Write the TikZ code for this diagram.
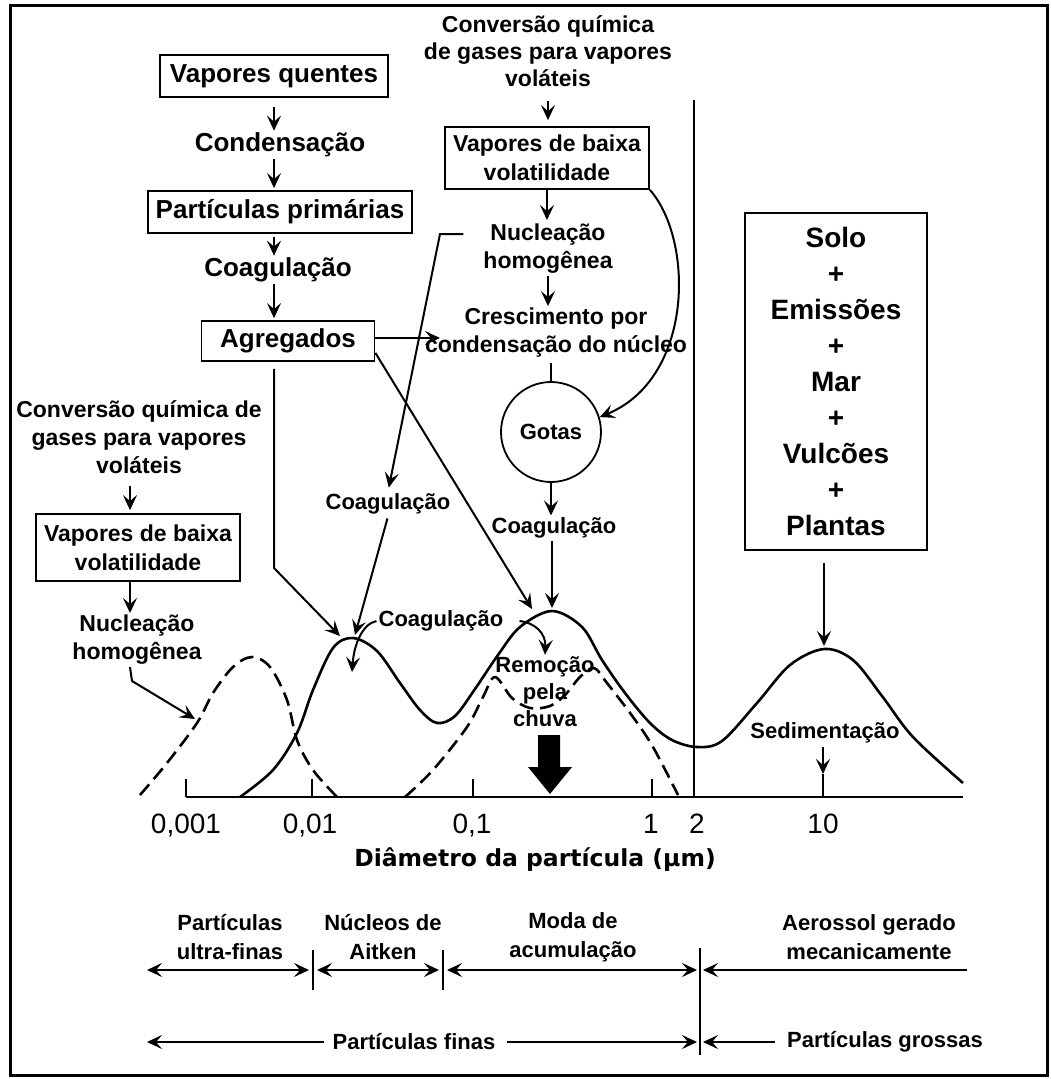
\documentclass[tikz,border=0pt]{standalone}
\usepackage{fontspec}
\setmainfont{Liberation Sans}
\newfontfamily\titlefont{DejaVu Sans}
\usetikzlibrary{arrows.meta}
\newcommand{\fsz}[2]{\fontsize{#1}{#2}\selectfont}
\begin{document}
\begin{tikzpicture}[x=1pt,y=-1pt,
  lbl/.style={font=\bfseries\fsz{23}{28}, inner sep=2pt, align=center},
  big/.style={lbl, font=\bfseries\fsz{26}{30}},
  sml/.style={lbl, font=\bfseries\fsz{22}{28}},
  boxed/.style={draw, line width=1.8pt},
  arr/.style={line width=2pt, -{Stealth[length=15pt,width=14pt,inset=6pt]}},
  darr/.style={line width=2.2pt, {Stealth[length=15pt,width=14pt,inset=6pt]}-{Stealth[length=15pt,width=14pt,inset=6pt]}},
  curve/.style={line width=2.6pt, line join=round},
  dcurve/.style={curve, dash pattern=on 14pt off 7pt},
  tickline/.style={line width=1.6pt},
  ticklbl/.style={font=\fsz{28}{30}, inner sep=1pt, anchor=base}
]
\fill[white] (0,0) rectangle (1051,1079);
\useasboundingbox (0,0) rectangle (1051,1079);
\draw[line width=3pt] (10,5) rectangle (1047,1075);

% ---------- left flow ----------
\coordinate (ux) at (274,0);
\node[big, boxed, minimum width=228pt, minimum height=42pt] (vq) at (274,76) {Vapores quentes};
\node[big] (cond) at (280,145) {Condensação};
\node[big, boxed, minimum width=264pt, minimum height=42pt] (pp) at (280,212) {Partículas primárias};
\node[big] (coag1) at (278,270) {Coagulação};
\node[big, boxed, minimum width=173pt, minimum height=40pt] (ag) at (288,341) {Agregados};

\draw[arr, shorten <=9pt] (vq.south -| ux) -- (cond.north -| ux);
\draw[arr, shorten >=2pt] (cond.south -| ux) -- (pp.north -| ux);
\draw[arr, shorten <=3pt] (pp.south -| ux) -- (coag1.north -| ux);
\draw[arr, shorten >=2pt] (coag1.south -| ux) -- (ag.north -| ux);

% ---------- top middle flow ----------
\node[lbl, font=\bfseries\fsz{23}{27}] (conv1) at (548,51) {Conversão química\\de gases para vapores\\voláteis};
\node[lbl, boxed, minimum width=204pt, minimum height=62pt, font=\bfseries\fsz{23}{29}] (vb1) at (547,158) {Vapores de baixa\\volatilidade};
\node[lbl] (nuc1) at (548,249) {Nucleação\\homogênea};
\node[lbl] (cresc) at (556,333) {Crescimento por\\condensação do núcleo};
\node[sml, draw, circle, line width=1.8pt, minimum size=100pt] (gotas) at (551,432) {Gotas};
\node[sml] (coagg) at (554,528) {Coagulação};

\draw[arr, shorten <=12pt, shorten >=6pt] (conv1.south) -- (conv1.south |- vb1.north);
\draw[arr, shorten >=2pt] (vb1.south) -- (vb1.south |- nuc1.north);
\draw[arr] (nuc1.south) -- (nuc1.south |- cresc.north);
\draw[line width=1.6pt, shorten <=3pt] (cresc.south -| gotas.north) -- (gotas.north);
\draw[arr] (gotas.south) -- (gotas.south |- coagg.north);
\coordinate (p2) at (552,608);
\draw[arr] (coagg.south -| p2) -- (p2);
\draw[arr] (vb1.south east) .. controls (694,240) and (694,378) .. (gotas.17);

% ---------- middle connectors ----------
\node[sml] (coagm) at (388,504) {Coagulação};
\node[sml] (coags) at (441,621) {Coagulação};
\node[lbl, font=\bfseries\fsz{22}{27}] (remo) at (545,692) {Remoção\\pela\\chuva};

\coordinate (agtip) at (440,338);
\draw[arr] (ag.east |- agtip) -- (agtip);
\coordinate (p2l) at (532,609);
\draw[arr] ([yshift=9pt]ag.south east) -- (p2l);
\coordinate (nk2) at (440,234);
\draw[arr, shorten >=4pt] ([xshift=-18pt,yshift=15pt]nuc1.west) -- (nk2) -- (coagm.north);
\coordinate (p1b) at (355,635);
\draw[arr, shorten <=2pt] (coagm.south) -- (p1b);
\coordinate (agk) at (274,568);
\coordinate (p1a) at (340,636);
\draw[arr, shorten <=7pt] (ag.south -| agk) -- (agk) -- (p1a);
\coordinate (p1c) at (352,672);
\draw[arr] (coags.west) .. controls (362,624) and (354,645) .. (p1c);
\draw[arr] ([xshift=14pt]coags.east) .. controls (536,623) and (546,634) .. (remo.north);

% big black arrow
\fill (538,735) -- (560,735) -- (560,767) -- (572,767) -- (550,794) -- (528,767) -- (538,767) -- cycle;

% ---------- left side ----------
\coordinate (lx) at (130,0);
\node[lbl] (conv2) at (139,437) {Conversão química de\\gases para vapores\\voláteis};
\node[lbl, boxed, minimum width=204pt, minimum height=67pt, font=\bfseries\fsz{23}{29}] (vb2) at (138,547.5) {Vapores de baixa\\volatilidade};
\node[lbl] (nuc2) at (137,640) {Nucleação\\homogênea};
\draw[arr, shorten <=10pt, shorten >=3pt] (conv2.south -| lx) -- (vb2.north -| lx);
\draw[arr] (vb2.south -| lx) -- (nuc2.north -| lx);
\coordinate (nuk) at (132,681);
\coordinate (dtip) at (195,719);
\draw[arr] (nuc2.south -| lx) -- (nuk) -- (dtip);

% ---------- right side ----------
\node[boxed, inner sep=2pt, align=center, font=\bfseries\fsz{28}{36}, minimum width=182pt, minimum height=337pt] (solo) at (836,381.5) {Solo\\+\\Emissões\\+\\Mar\\+\\Vulcões\\+\\Plantas};
\coordinate (p3) at (824,646);
\draw[arr, shorten <=12pt] (solo.south -| p3) -- (p3);
\node[sml] (sed) at (825,733) {Sedimentação};
\coordinate (sedtip) at (823,774);
\coordinate (t10) at (823,797);
\draw[arr, shorten <=2pt] (sed.south -| sedtip) -- (sedtip);
\draw[tickline] (sedtip) -- (t10);

% vertical 2 um line
\coordinate (v2top) at (694,100);
\coordinate (v2bot) at (694,797);
\draw[line width=1.8pt] (v2top) -- (v2bot);

% ---------- curves ----------
\draw[curve] plot[smooth, tension=0.55] coordinates {(240,797) (273,770) (297,733) (313,690) (333,648) (353,638) (377,651) (400,683) (420,710) (437,723) (455,716) (475,689) (498,655) (520,627) (552,611) (582,627) (602,660) (625,693) (650,723) (672,740) (697,747) (722,741) (757,703) (790,665) (824,649) (853,660) (882,696) (913,737) (963,783)};
\draw[dcurve] plot[smooth, tension=0.55] coordinates {(140,795) (167,763) (197,723) (213,693) (233,667) (252,657) (270,667) (287,700) (297,740) (313,770) (337,797)};
\draw[dcurve] plot[smooth, tension=0.55] coordinates {(405,797) (433,770) (467,727) (483,697) (495,677) (512,698) (530,708) (550,706) (565,695) (580,677) (594,668) (607,683) (633,717) (653,747) (678,795)};

% ---------- axis ----------
\draw[line width=2.6pt] (186,797) -- (963,797);
\foreach \xx in {186,312,473,652} \draw[tickline] (\xx,797) -- (\xx,779);
\node[ticklbl] (l1) at (186,833) {0,001};
\node[ticklbl] (l2) at (310,833) {0,01};
\node[ticklbl] (l3) at (472,833) {0,1};
\node[ticklbl] (l4) at (651,833) {1};
\node[ticklbl] (l5) at (697,833) {2};
\node[ticklbl] (l6) at (823,833) {10};
\node[font=\titlefont\bfseries\fsz{23.5}{28}, anchor=base] (title) at (535,866) {Diâmetro da partícula (µm)};

% ---------- bottom classification ----------
\node[sml, font=\bfseries\fsz{22}{29}] (uf) at (230,937.5) {Partículas\\ultra-finas};
\node[sml, font=\bfseries\fsz{22}{29}] (ait) at (383,937.5) {Núcleos de\\Aitken};
\node[sml, font=\bfseries\fsz{22}{29}] (moda) at (573,937.5) {Moda de\\acumulação};
\node[sml, font=\bfseries\fsz{22}{29}] (aer) at (869,937.5) {Aerossol gerado\\mecanicamente};

\coordinate (a0) at (147,970);
\coordinate (s1) at (313,970);
\coordinate (s2) at (443,970);
\coordinate (s3) at (700,970);
\coordinate (a4) at (967,970);
\draw[tickline] (313,950) -- (313,990);
\draw[tickline] (443,950) -- (443,990);
\draw[tickline] (700,948) -- (700,1055);
\draw[darr, shorten >=4pt] (a0) -- (s1);
\draw[darr, shorten <=4pt, shorten >=4pt] (s1) -- (s2);
\draw[darr, shorten <=4pt, shorten >=3pt] (s2) -- (s3);
\draw[arr, shorten >=3pt] (a4) -- (s3);

\node[sml] (pf) at (414,1042) {Partículas finas};
\node[sml] (pg) at (885,1042) {Partículas grossas};
\coordinate (b0) at (147,1042);
\coordinate (b3) at (700,1042);
\draw[arr, shorten <=6pt] (pf.west) -- (b0);
\draw[arr, shorten <=9pt, shorten >=3pt] (pf.east) -- (b3);
\draw[arr, shorten <=10pt, shorten >=3pt] (pg.west) -- (b3);
\end{tikzpicture}
\end{document}
